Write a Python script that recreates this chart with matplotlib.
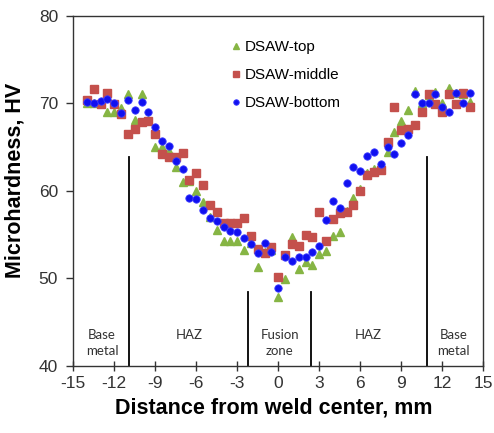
import matplotlib
matplotlib.use("Agg")
import matplotlib.pyplot as plt

plt.rcParams['font.family'] = ['Liberation Sans', 'DejaVu Sans']
plt.rcParams['axes.unicode_minus'] = False

# Distance from weld center (mm)
distance = [-14.0, -13.5, -13.0, -12.5, -12.0, -11.5, -11.0, -10.5, -10.0, -9.5,
            -9.0, -8.5, -8.0, -7.5, -7.0, -6.5, -6.0, -5.5, -5.0, -4.5,
            -4.0, -3.5, -3.0, -2.5, -2.0, -1.5, -1.0, -0.5, 0.0, 0.5,
            1.0, 1.5, 2.0, 2.5, 3.0, 3.5, 4.0, 4.5, 5.0, 5.5,
            6.0, 6.5, 7.0, 7.5, 8.0, 8.5, 9.0, 9.5, 10.0, 10.5,
            11.0, 11.5, 12.0, 12.5, 13.0, 13.5, 14.0]

hv_top = [70.0, 70.0, 70.1, 69.07, 69.07, 69.43, 71.14, 68.09, 71.1, 68.1,
          65.05, 65.05, 64.6, 62.69, 61.0, 61.1, 60.03, 58.77, 57.0, 55.54,
          54.32, 54.32, 54.32, 53.26, 54.0, 51.28, 53.0, 53.3, 47.93, 49.98,
          54.75, 51.05, 51.85, 51.54, 52.8, 53.1, 54.85, 55.3, 57.7, 59.15,
          60.2, 62.1, 62.5, 62.8, 64.4, 66.76, 68.0, 69.23, 71.4, 70.0,
          71.0, 71.3, 70.1, 71.82, 71.2, 71.1, 70.15]

hv_middle = [70.45, 71.6, 69.92, 71.25, 69.92, 68.85, 66.5, 67.07, 67.83, 68.02,
             66.57, 64.21, 63.83, 63.83, 64.29, 61.24, 62.08, 60.68, 58.39, 57.63,
             56.38, 56.3, 56.3, 56.87, 54.86, 53.33, 52.88, 53.64, 50.14, 52.69,
             53.94, 53.71, 54.97, 54.7, 57.63, 54.3, 56.85, 57.5, 57.63, 58.4,
             60.03, 61.8, 62.2, 62.42, 65.62, 69.65, 66.95, 67.05, 67.5, 69.05,
             71.06, 69.92, 69.05, 71.06, 69.92, 71.23, 69.58]

hv_bottom = [70.19, 70.07, 70.3, 70.49, 70.07, 68.97, 70.38, 69.24, 70.19, 69.05,
             67.26, 65.73, 65.13, 63.38, 62.54, 59.16, 59.04, 57.82, 56.87, 56.61,
             55.92, 55.46, 55.27, 54.59, 53.94, 52.95, 54.02, 53.07, 48.92, 52.42,
             52.04, 52.5, 52.4, 53.0, 53.68, 56.68, 58.8, 58.0, 60.9, 62.69,
             62.31, 64.0, 64.48, 63.07, 65.05, 64.25, 65.45, 66.45, 71.06, 70.07,
             70.07, 71.06, 69.58, 69.05, 71.23, 70.07, 71.15]

series_labels = ['DSAW-top', 'DSAW-middle', 'DSAW-bottom']

# Zone boundaries (x, top of line in HV)
boundary_x = [-10.9, -2.2, 2.4, 10.85]
boundary_top = [63.9, 48.5, 48.5, 63.9]

zone_labels = ['Base\nmetal', 'HAZ', 'Fusion\nzone', 'HAZ', 'Base\nmetal']
zone_x = [-12.9, -6.55, 0.1, 6.55, 12.8]
zone_y = [42.6, 43.5, 42.6, 43.5, 42.6]

fig = plt.figure(figsize=(4.94, 4.33), dpi=100)
ax = fig.add_axes([73.3 / 494, (433 - 366) / 433, 410 / 494, 350 / 433])

green = '#86B544'
red = '#C4504C'
blue = '#1010F0'

h1, = ax.plot(distance, hv_top, linestyle='none', marker='^', ms=6.4,
              color=green, mec=green, label=series_labels[0], zorder=3)
h2, = ax.plot(distance, hv_middle, linestyle='none', marker='s', ms=5.2,
              color=red, mec=red, label=series_labels[1], zorder=4)
h3, = ax.plot(distance, hv_bottom, linestyle='none', marker='o', ms=5.3,
              color=blue, mec='#3a3aff', mew=0.6, label=series_labels[2], zorder=5)

for bx, bt in zip(boundary_x, boundary_top):
    ax.plot([bx, bx], [40, bt], color='black', lw=1.3, zorder=2)

for lab, zx, zy in zip(zone_labels, zone_x, zone_y):
    ax.text(zx, zy, lab, ha='center', va='center', fontsize=9.5,
            family=['Lato', 'DejaVu Sans'], color='#333333', linespacing=1.35)

ax.set_xlim(-15, 15)
ax.set_ylim(40, 80)
ax.set_xticks([-15, -12, -9, -6, -3, 0, 3, 6, 9, 12, 15])
ax.set_yticks([40, 50, 60, 70, 80])

for sp in ax.spines.values():
    sp.set_color('#333333')
    sp.set_linewidth(1.0)

ax.tick_params(axis='x', direction='inout', length=7, width=1.0,
               labelsize=12.5, pad=4, colors='#333333')
ax.tick_params(axis='y', direction='out', length=5, width=1.0,
               labelsize=12.5, pad=6, colors='#333333')

ax.set_xlabel('Distance from weld center, mm', fontsize=15.5, fontweight='bold', va='center')
ax.xaxis.set_label_coords(0.49, -0.12)
ax.set_ylabel('Microhardness, HV', fontsize=15.5, fontweight='bold', va='center')
ax.yaxis.set_label_coords(-0.142, 0.529)

ax.legend(handles=[h1, h2, h3], loc='upper left', bbox_to_anchor=(0.385, 0.93),
          frameon=False, fontsize=11, handlelength=0.6, handletextpad=0.3,
          labelspacing=0.9, borderpad=0, borderaxespad=0, markerscale=0.75)

fig.savefig('out.png', dpi=100)
